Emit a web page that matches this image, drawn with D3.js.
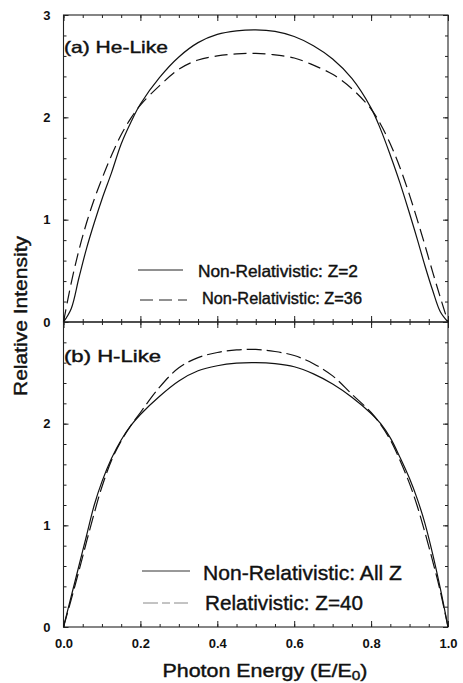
<!DOCTYPE html>
<html>
<head>
<meta charset="utf-8">
<script src="https://cdn.jsdelivr.net/npm/d3@7"></script>
<style>
  body { margin: 0; background: #fff; }
  svg { display: block; }
  text { font-family: "Liberation Sans", Arial, Helvetica, sans-serif; fill: #111; }
  .lbl { stroke: #111; stroke-width: 0.4px; }
</style>
</head>
<body>
<div id="chart"></div>
<script>
// photon energy grid (E/E0)
const energy = [0, 0.02, 0.04, 0.06, 0.08, 0.1, 0.125, 0.15, 0.175, 0.2, 0.25, 0.3, 0.35, 0.4, 0.45, 0.5,
  0.55, 0.6, 0.65, 0.7, 0.75, 0.8, 0.825, 0.85, 0.875, 0.9, 0.92, 0.94, 0.96, 0.98, 1.0]

// (a) He-like
const heNonRelZ2 = [0, 0.13, 0.43, 0.72, 0.97, 1.2, 1.46, 1.74, 1.95, 2.13, 2.39, 2.59, 2.73, 2.81, 2.845, 2.855,
  2.84, 2.79, 2.7, 2.57, 2.38, 2.09, 1.88, 1.63, 1.36, 1.06, 0.81, 0.55, 0.31, 0.1, 0]
const heNonRelZ36 = [0, 0.38, 0.7, 0.97, 1.2, 1.4, 1.63, 1.83, 1.99, 2.12, 2.31, 2.47, 2.56, 2.6, 2.62, 2.625,
  2.61, 2.58, 2.51, 2.42, 2.28, 2.08, 1.93, 1.74, 1.51, 1.24, 1.0, 0.75, 0.49, 0.24, 0]

// (b) H-like
const hNonRelAllZ = [0, 0.3, 0.6, 0.9, 1.2, 1.43, 1.66, 1.84, 1.98, 2.09, 2.27, 2.42, 2.52, 2.57, 2.595, 2.6,
  2.59, 2.56, 2.49, 2.39, 2.26, 2.1, 2.0, 1.86, 1.67, 1.46, 1.26, 1.02, 0.72, 0.38, 0]
const hRelZ40 = [0, 0.27, 0.55, 0.84, 1.12, 1.38, 1.64, 1.83, 1.98, 2.11, 2.36, 2.55, 2.65, 2.7, 2.725, 2.73,
  2.71, 2.67, 2.59, 2.47, 2.29, 2.11, 1.99, 1.84, 1.64, 1.41, 1.19, 0.93, 0.65, 0.35, 0]

const xTicks = [0, 0.2, 0.4, 0.6, 0.8, 1.0]
const yTicksTop = [0, 1, 2, 3]
const yTicksBottom = [0, 1, 2]

const width = 463
const height = 683
const plot = { left: 63.5, right: 448, top: 15, mid: 322, bottom: 627 }

const svg = d3.select('#chart').append('svg')
  .attr('width', width)
  .attr('height', height)

const x = d3.scaleLinear().domain([0, 1]).range([plot.left, plot.right])
const yTop = d3.scaleLinear().domain([0, 3]).range([plot.mid, plot.top])
const yBot = d3.scaleLinear().domain([0, 3]).range([plot.bottom, plot.mid])

const xMinor = d3.range(0, 1.0001, 0.05)
const yMinor = d3.range(0, 3.0001, 0.2)

function styleAxis (g) {
  g.select('.domain').remove()
  g.selectAll('line').attr('stroke', '#222').attr('stroke-width', 1)
  g.selectAll('text')
    .style('font-size', '13px')
    .style('font-weight', 'bold')
    .attr('fill', '#111')
}

function drawPanel (y, yLabels, showX) {
  const g = svg.append('g')
  // minor ticks
  g.append('g').attr('transform', `translate(0,${y.range()[0]})`)
    .call(d3.axisBottom(x).tickValues(xMinor).tickSize(-3).tickFormat('')).call(styleAxis)
  g.append('g').attr('transform', `translate(0,${y.range()[1]})`)
    .call(d3.axisTop(x).tickValues(xMinor).tickSize(-3).tickFormat('')).call(styleAxis)
  g.append('g').attr('transform', `translate(${plot.left},0)`)
    .call(d3.axisLeft(y).tickValues(yMinor).tickSize(-3).tickFormat('')).call(styleAxis)
  g.append('g').attr('transform', `translate(${plot.right},0)`)
    .call(d3.axisRight(y).tickValues(yMinor).tickSize(-3).tickFormat('')).call(styleAxis)

  // major ticks
  g.append('g').attr('transform', `translate(0,${y.range()[0]})`)
    .call(d3.axisBottom(x).tickValues(xTicks).tickSize(-6).tickPadding(12)
      .tickFormat(showX ? d3.format('.1f') : '')).call(styleAxis)
  g.append('g').attr('transform', `translate(0,${y.range()[1]})`)
    .call(d3.axisTop(x).tickValues(xTicks).tickSize(-6).tickFormat('')).call(styleAxis)
  g.append('g').attr('transform', `translate(${plot.left},0)`)
    .call(d3.axisLeft(y).tickValues(yLabels).tickSize(-5).tickPadding(13).tickFormat(d3.format('d'))).call(styleAxis)
  g.append('g').attr('transform', `translate(${plot.right},0)`)
    .call(d3.axisRight(y).tickValues(d3.range(0, 4)).tickSize(-5).tickFormat('')).call(styleAxis)

  // frame
  g.append('rect')
    .attr('x', plot.left)
    .attr('y', y.range()[1])
    .attr('width', plot.right - plot.left)
    .attr('height', y.range()[0] - y.range()[1])
    .attr('fill', 'none')
    .attr('stroke', '#222')
    .attr('stroke-width', 1.1)
  return g
}

function drawCurve (g, y, values, dash) {
  const line = d3.line()
    .x((d, i) => x(energy[i]))
    .y(d => y(d))
    .curve(d3.curveCatmullRom.alpha(0.5))
  g.append('path')
    .datum(values)
    .attr('d', line)
    .attr('fill', 'none')
    .attr('stroke', '#111')
    .attr('stroke-width', 1.2)
    .attr('stroke-dasharray', dash)
}

function label (txt, px, py, size, len, opts = {}) {
  const t = svg.append('text')
    .attr('class', 'lbl')
    .attr('x', px)
    .attr('y', py)
    .style('font-size', size + 'px')
    .attr('text-anchor', opts.anchor || 'start')
    .text(txt)
  if (len) t.attr('textLength', len).attr('lengthAdjust', 'spacingAndGlyphs')
  if (opts.transform) t.attr('transform', opts.transform)
  return t
}

function legendLine (x1, x2, yy, dash, color, w) {
  svg.append('line')
    .attr('x1', x1).attr('x2', x2)
    .attr('y1', yy).attr('y2', yy)
    .attr('stroke', color)
    .attr('stroke-width', w)
    .attr('stroke-dasharray', dash)
}

const panelA = drawPanel(yTop, yTicksTop, false)
drawCurve(panelA, yTop, heNonRelZ2, null)
drawCurve(panelA, yTop, heNonRelZ36, '13,6')

const panelB = drawPanel(yBot, yTicksBottom, true)
drawCurve(panelB, yBot, hNonRelAllZ, null)
drawCurve(panelB, yBot, hRelZ40, '15,5')

// panel labels
label('(a) He-Like', 64, 53, 16.5, 104)
label('(b) H-Like', 64, 362, 16.5, 97)

// legends
legendLine(138, 183, 270, null, '#222', 1)
label('Non-Relativistic: Z=2', 198, 277, 16.5, 160)
legendLine(140, 187, 300, '13,6', '#222', 1)
label('Non-Relativistic: Z=36', 202, 304, 16.5, 160)

legendLine(142, 190, 571, null, '#333', 1)
label('Non-Relativistic: All Z', 203, 580, 21, 199)
legendLine(143, 188, 603, '15,4,8,4', '#888', 1)
label('Relativistic: Z=40', 205, 610, 21, 158)

// axis titles
label('Relative Intensity', 0, 0, 18, 160, { anchor: 'middle', transform: 'translate(27,316) rotate(-90)' })

const xt = svg.append('text')
  .attr('class', 'lbl')
  .attr('x', 265)
  .attr('y', 677)
  .attr('text-anchor', 'middle')
  .style('font-size', '18px')
  .attr('textLength', 205)
  .attr('lengthAdjust', 'spacingAndGlyphs')
xt.append('tspan').text('Photon Energy (E/E')
xt.append('tspan').attr('dy', 3).style('font-size', '13px').text('0')
xt.append('tspan').attr('dy', -3).text(')')
</script>
</body>
</html>
